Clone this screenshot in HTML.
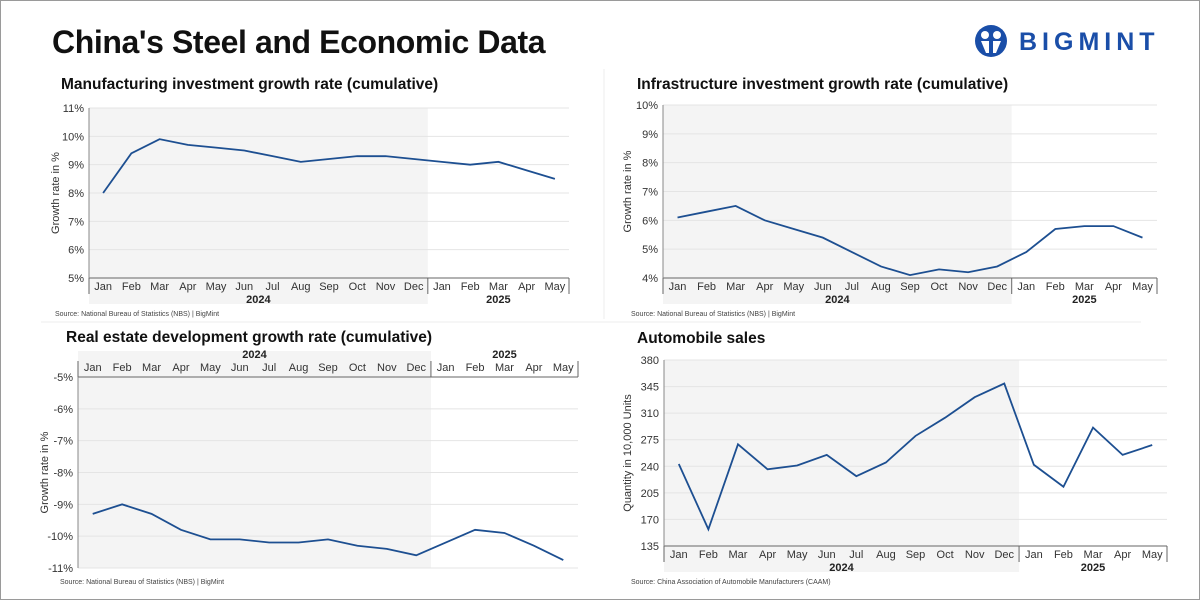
<!DOCTYPE html>
<html><head><meta charset="utf-8"><style>
body{margin:0;background:#fff;}
#root{position:relative;width:1198px;height:598px;border:1px solid #9a9a9a;overflow:hidden;font-family:"Liberation Sans",sans-serif;background:#fff;}
.t{position:absolute;font-weight:bold;color:#111;white-space:nowrap;}
</style></head><body>
<div id="root">
<div class="t" style="left:51px;top:23px;font-size:32px;letter-spacing:-0.4px">China's Steel and Economic Data</div>
<div style="position:absolute;left:973px;top:23px;width:200px;height:36px;">
<svg width="34" height="34" viewBox="0 0 34 34"><circle cx="17" cy="17" r="16" fill="#1a4ea8"/><circle cx="11" cy="11" r="4" fill="#fff"/><circle cx="23" cy="11" r="4" fill="#fff"/><path d="M7 17h8v12h-3zM27 17h-8v12h3z" fill="#fff"/></svg>
<span style="position:absolute;left:45px;top:4px;font-size:25px;font-weight:bold;color:#1a4ea8;letter-spacing:5px">BIGMINT</span>
</div>
<svg id="svg" width="1198" height="598" style="position:absolute;left:0;top:0"></svg>
</div>
<script>
const months = ["Jan","Feb","Mar","Apr","May","Jun","Jul","Aug","Sep","Oct","Nov","Dec","Jan","Feb","Mar","Apr","May"];
const manufValues = [8.0,9.4,9.9,9.7,9.6,9.5,9.3,9.1,9.2,9.3,9.3,9.2,9.1,9.0,9.1,8.8,8.5];
const manufTicks = [5,6,7,8,9,10,11];
const infraValues = [6.1,6.3,6.5,6.0,5.7,5.4,4.9,4.4,4.1,4.3,4.2,4.4,4.9,5.7,5.8,5.8,5.4];
const infraTicks = [4,5,6,7,8,9,10];
const realEstateValues = [-9.3,-9.0,-9.3,-9.8,-10.1,-10.1,-10.2,-10.2,-10.1,-10.3,-10.4,-10.6,-10.2,-9.8,-9.9,-10.3,-10.75];
const realEstateTicks = [-11,-10,-9,-8,-7,-6,-5];
const autoValues = [243,157,269,236,241,255,227,245,280,304,331,349,242,213,291,255,268];
const autoTicks = [135,170,205,240,275,310,345,380];
const years = ["2024","2025"];

const svg = document.getElementById('svg');
const NS = "http://www.w3.org/2000/svg";
function mk(tag, attrs, parent){const e=document.createElementNS(NS,tag);for(const k in attrs)e.setAttribute(k,attrs[k]);(parent||svg).appendChild(e);return e;}
function txt(s,attrs,parent){const e=mk('text',attrs,parent);e.textContent=s;return e;}

function chart(o){
  const g = mk('g',{});
  
  
  const n = months.length, bw = (o.x1-o.x0)/n;
  const lo = o.ticks[0], hi = o.ticks[o.ticks.length-1];
  const y = v => o.reversed ? o.yTop + (hi - v)/(hi-lo)*(o.yBot-o.yTop) : o.yBot - (v-lo)/(hi-lo)*(o.yBot-o.yTop);
  const x = i => o.x0 + (i+0.5)*bw;
  const t = txt(o.title,{x:o.tx,y:o.ty,'font-size':15.5,'font-weight':'bold',fill:'#111'},g);
  
  
  const shadeBot = o.top ? o.yBot : o.yBot+26;
  const shadeTop = o.top ? o.yTop-26 : o.yTop;
  mk('rect',{x:o.x0,y:shadeTop,width:bw*12,height:shadeBot-shadeTop,fill:'#f4f4f4'},g);
  o.ticks.forEach(v=>{
    const yy=y(v);
    mk('line',{x1:o.x0,x2:o.x1,y1:yy,y2:yy,stroke:'#e4e4e4','stroke-width':1},g);
    const lbl = txt(o.fmt(v),{x:o.x0-5,y:yy+4,'font-size':11,'text-anchor':'end',fill:'#333'},g);
    
    
  });
  const axY = o.top ? o.yTop : o.yBot;
  const lblY = o.top ? axY-6 : axY+12;
  const yrY = o.top ? axY-19 : axY+25;
  mk('line',{x1:o.x0,x2:o.x1,y1:axY,y2:axY,stroke:'#666'},g);
  mk('line',{x1:o.x0,x2:o.x0,y1:o.yTop,y2:o.yBot,stroke:'#888'},g);
  [0,12,17].forEach(k=>mk('line',{x1:o.x0+k*bw,x2:o.x0+k*bw,y1:axY,y2:o.top?axY-16:axY+16,stroke:'#666'},g));
  months.forEach((m,i)=>{
    const l = txt(m,{x:x(i),y:lblY,'font-size':11,'text-anchor':'middle',fill:'#333'},g);
    
    
  });
  [[years[0],x(5.5)],[years[1],x(14)]].forEach(([s,xx])=>{
    const l = txt(s,{x:xx,y:yrY,'font-size':11,'font-weight':'bold','text-anchor':'middle',fill:'#222'},g);
    
    
  });
  const cy=(o.yTop+o.yBot)/2;
  const at = txt(o.ytitle,{x:o.ytx,y:cy,'font-size':11,'text-anchor':'middle',fill:'#333',transform:`rotate(-90 ${o.ytx} ${cy})`},g);
  
  
  const p = mk('polyline',{points:o.values.map((v,i)=>x(i)+','+y(v)).join(' '),fill:'none',stroke:'#1d4f91','stroke-width':1.8},g);
  
  
  const s = txt(o.source,{x:o.tx-6,y:o.sy,'font-size':7,fill:'#444'},g);
  
  
}
const pct = v => v+'%';
chart({name:'manufacturing-chart',title:'Manufacturing investment growth rate (cumulative)',tx:60,ty:88,x0:88,x1:568,yTop:107,yBot:277,ticks:manufTicks,values:manufValues,fmt:pct,ytitle:'Growth rate in %',ytx:58,source:'Source: National Bureau of Statistics (NBS) |  BigMint',sy:315});
chart({name:'infrastructure-chart',title:'Infrastructure investment growth rate (cumulative)',tx:636,ty:88,x0:662,x1:1156,yTop:104,yBot:277,ticks:infraTicks,values:infraValues,fmt:pct,ytitle:'Growth rate in %',ytx:630,source:'Source: National Bureau of Statistics (NBS) |  BigMint',sy:315});
chart({name:'real-estate-chart',title:'Real estate development growth rate (cumulative)',tx:65,ty:341,x0:77,x1:577,yTop:376,yBot:567,top:true,reversed:true,ticks:realEstateTicks,values:realEstateValues,fmt:pct,ytitle:'Growth rate in %',ytx:47,source:'Source: National Bureau of Statistics (NBS) |  BigMint',sy:583});
chart({name:'automobile-chart',title:'Automobile sales',tx:636,ty:342,x0:663,x1:1166,yTop:359,yBot:545,ticks:autoTicks,values:autoValues,fmt:v=>v,ytitle:'Quantity in 10,000 Units',ytx:630,source:'Source: China Association of Automobile Manufacturers (CAAM)',sy:583});
const d1 = mk('line',{x1:603,x2:603,y1:68,y2:318,stroke:'#eee'});


const d2 = mk('line',{x1:40,x2:1140,y1:321,y2:321,stroke:'#eee'});


</script>
</body></html>
